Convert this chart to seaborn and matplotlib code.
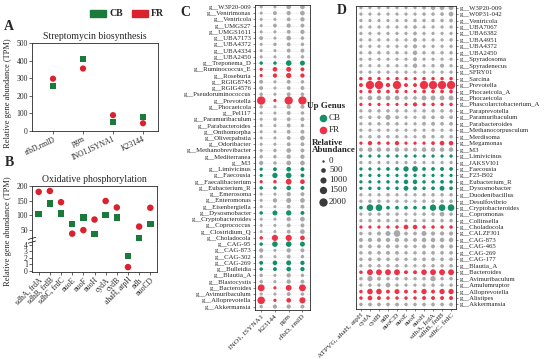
import matplotlib
matplotlib.use("Agg")
import matplotlib.pyplot as plt
import pandas as pd
import seaborn as sns

sns.set_theme(style="ticks")
plt.rcParams['font.family'] = ['Liberation Serif', 'DejaVu Serif']

# colours
CB_COL = '#1a7a3c'
FR_COL = '#d9222e'
BUB_PAL = {'CB': '#13906a', 'FR': '#ea3346', 'none': '#a8a8a8'}

# Panel A: Streptomycin biosynthesis
strep_genes = ['rfbD,rmlD', 'pgm', 'INO1,ISYNA1', 'K23144']
strep_cb = [256, 410, 50, 80]
strep_fr = [297, 355, 90, 44]

# Panel B: Oxidative phosphorylation
ox_genes = ['sdhA, frdA', 'sdhB, frdB', 'sdhC, frdC', 'nuoE', 'nuoF', 'nuoH',
            'cydA', 'cydB', 'ahaH, atpH', 'ndh', 'nuoCD']
ox_cb = [105, 140, 107, 70, 93, 37, 101, 93, 2.3, 24, 71]
ox_fr = [180, 183, 145, 38, 50, 86, 149, 127, 0.6, 62, 126]

# Panel C: genus contribution to streptomycin genes
c_genes = ['INO1, ISYNA1', 'K23144', 'pgm', 'rfbD, rmlD']
c_genus = ['W3P20-009', 'Ventrimonas', 'Ventricola', 'UMGS27', 'UMGS1611', 'UBA7173',
           'UBA4372', 'UBA4334', 'UBA2450', 'Treponema_D', 'Ruminococcus_E', 'Roseburia',
           'RGIG8745', 'RGIG4576', 'Pseudoruminococcus', 'Prevotella', 'Phocaeicola',
           'Pel117', 'Paramuribaculum', 'Parabacteroides', 'Onthomorpha', 'Oliverpabstia',
           'Odoribacter', 'Methanobrevibacter', 'Mediterranea', 'M3', 'Limivicinus',
           'Faecousia', 'Faecalibacterium', 'Eubacterium_R', 'Emerosoma', 'Enteromonas',
           'Eisenbergiella', 'Dysosmobacter', 'Cryptobacteroides', 'Coprococcus',
           'Clostridium_Q', 'Choladocola', 'CAG-95', 'CAG-873', 'CAG-302', 'CAG-269',
           'Bulleidia', 'Blautia_A', 'Blastocystis', 'Bacteroides', 'Avimuribaculum',
           'Alloprevotella', 'Akkermansia']
c_group = ['none'] * 9 + ['CB', 'FR', 'FR', 'none', 'none', 'none', 'FR'] + ['none'] * 10 + \
          ['CB', 'CB', 'FR', 'CB', 'none', 'none', 'none', 'CB', 'none', 'none', 'none',
           'FR', 'CB', 'none', 'none', 'CB', 'CB', 'none', 'none', 'FR', 'none', 'FR', 'none']
c_vals = [
    [120, 120, 500, 500], [120, 300, 400, 500], [120, 120, 300, 400], [120, 300, 400, 300],
    [120, 120, 300, 400], [300, 120, 500, 200], [120, 200, 300, 200], [120, 120, 300, 300],
    [120, 120, 200, 200], [200, 200, 800, 600], [150, 500, 600, 300], [150, 400, 700, 400],
    [300, 120, 300, 200], [300, 120, 300, 300], [200, 120, 300, 200], [4500, 150, 4500, 4500],
    [200, 120, 400, 300], [120, 120, 300, 200], [120, 200, 300, 300], [120, 120, 300, 200],
    [120, 120, 300, 300], [120, 120, 300, 500], [120, 120, 300, 300], [120, 200, 500, 300],
    [200, 200, 400, 400], [400, 200, 500, 500], [150, 300, 500, 300], [150, 700, 800, 300],
    [150, 200, 900, 500], [200, 200, 500, 300], [120, 120, 400, 300], [120, 400, 600, 500],
    [120, 120, 300, 300], [200, 600, 700, 300], [120, 120, 400, 500], [120, 120, 300, 300],
    [120, 120, 300, 500], [200, 1000, 1000, 500], [200, 800, 800, 600], [400, 120, 400, 300],
    [200, 120, 300, 200], [300, 500, 600, 400], [200, 300, 500, 400], [200, 120, 400, 200],
    [200, 120, 400, 300], [1300, 150, 900, 1300], [120, 120, 300, 200], [1600, 150, 500, 1000],
    [200, 400, 400, 300]]

# Panel D: genus contribution to oxidative phosphorylation genes
d_genes = ['ATPVG, ahaH, atpH', 'cydA', 'cydB', 'ndh', 'nuoCD', 'nuoE', 'nuoF', 'nuoH',
           'sdhA, frdA', 'sdhB, frdB', 'sdhC, frdC']
d_genus = ['W3P20-009', 'W0P31-042', 'Ventricola', 'UBA7067', 'UBA6382', 'UBA4951',
           'UBA4372', 'UBA2450', 'Spyradosoma', 'Spyradenecus', 'SFRY01', 'Sarcina',
           'Prevotella', 'Phocaeicola_A', 'Phocaeicola', 'Phascolarctobacterium_A',
           'Paraprevotella', 'Paramuribaculum', 'Parabacteroides', 'Methanocorpusculum',
           'Merdisoma', 'Megamonas', 'M3', 'Limivicinus', 'JAKSVI01', 'Faecousia', 'F23-B02',
           'Eubacterium_R', 'Dysosmobacter', 'Duodenibacillus', 'Desulfovibrio',
           'Cryptobacteroides', 'Copromonas', 'Collinsella', 'Choladocola', 'CALZFJ01',
           'CAG-873', 'CAG-465', 'CAG-269', 'CAG-177', 'Blautia_A', 'Bacteroides',
           'Avimuribaculum', 'Amulumruptor', 'Alloprevotella', 'Alistipes', 'Akkermansia']
d_group = ['none'] * 11 + ['FR', 'FR', 'FR', 'none', 'FR'] + ['none'] * 5 + \
          ['FR', 'none', 'CB', 'none', 'CB', 'CB', 'CB', 'CB', 'none', 'none', 'CB', 'none',
           'none', 'FR', 'none', 'none', 'none', 'none', 'none', 'none', 'FR', 'none', 'none',
           'FR', 'FR', 'none']
d_vals = [
    [150, 150, 150, 150, 150, 150, 150, 250, 500, 550, 550],
    [150, 150, 150, 150, 150, 150, 150, 200, 200, 250, 500],
    [150, 150, 150, 150, 150, 150, 200, 200, 200, 200, 250],
    [150, 150, 150, 150, 150, 150, 250, 150, 150, 150, 150],
    [150, 150, 150, 150, 150, 150, 250, 150, 150, 150, 150],
    [150, 150, 150, 150, 150, 150, 300, 150, 150, 150, 200],
    [150, 150, 150, 150, 150, 150, 350, 150, 150, 150, 150],
    [150, 200, 200, 200, 200, 150, 450, 200, 200, 200, 200],
    [150, 150, 150, 150, 150, 150, 300, 150, 150, 150, 150],
    [150, 150, 150, 150, 150, 150, 450, 150, 200, 350, 150],
    [150, 150, 150, 150, 150, 150, 150, 150, 150, 150, 150],
    [200, 250, 200, 150, 200, 150, 150, 200, 200, 200, 200],
    [300, 4200, 4200, 400, 4200, 300, 300, 4000, 4300, 4300, 4000],
    [150, 250, 250, 250, 250, 150, 150, 250, 250, 250, 250],
    [200, 500, 500, 500, 500, 250, 250, 550, 550, 550, 550],
    [150, 150, 150, 150, 150, 150, 350, 200, 200, 200, 200],
    [150, 200, 200, 200, 200, 150, 150, 200, 200, 200, 200],
    [150, 200, 200, 600, 250, 150, 150, 250, 250, 250, 250],
    [150, 200, 200, 250, 200, 150, 150, 250, 300, 250, 250],
    [150, 150, 150, 150, 150, 150, 150, 150, 150, 150, 150],
    [150, 200, 200, 200, 200, 150, 150, 250, 200, 200, 200],
    [150, 400, 200, 200, 400, 150, 150, 150, 250, 500, 450],
    [300, 450, 450, 350, 450, 300, 300, 450, 450, 450, 450],
    [150, 150, 150, 150, 150, 150, 150, 150, 150, 150, 150],
    [150, 150, 150, 150, 150, 150, 150, 150, 150, 150, 150],
    [150, 150, 150, 250, 250, 700, 800, 250, 250, 300, 250],
    [150, 150, 150, 150, 150, 200, 200, 150, 150, 150, 150],
    [150, 150, 150, 200, 200, 450, 450, 200, 200, 250, 200],
    [150, 200, 200, 200, 200, 550, 300, 200, 250, 550, 250],
    [150, 150, 150, 200, 150, 150, 150, 200, 200, 200, 200],
    [150, 200, 200, 200, 200, 150, 150, 200, 200, 200, 200],
    [250, 1200, 1200, 250, 250, 250, 250, 250, 1100, 1200, 1200],
    [150, 200, 200, 200, 200, 150, 150, 200, 200, 500, 200],
    [150, 200, 200, 200, 200, 150, 150, 200, 200, 200, 200],
    [150, 150, 150, 150, 200, 500, 450, 200, 200, 200, 200],
    [200, 200, 300, 600, 1200, 250, 250, 600, 350, 350, 350],
    [300, 350, 350, 400, 400, 300, 300, 450, 450, 450, 450],
    [200, 250, 250, 300, 250, 200, 200, 300, 300, 300, 300],
    [200, 250, 250, 300, 250, 200, 200, 250, 250, 250, 250],
    [200, 250, 250, 250, 250, 200, 200, 250, 250, 250, 250],
    [150, 200, 200, 200, 200, 150, 150, 200, 200, 200, 200],
    [200, 900, 900, 900, 900, 300, 300, 800, 900, 900, 900],
    [200, 700, 300, 200, 200, 200, 200, 200, 700, 200, 200],
    [150, 200, 200, 500, 200, 150, 150, 200, 200, 200, 200],
    [200, 800, 800, 300, 600, 300, 200, 700, 300, 700, 700],
    [200, 500, 300, 200, 200, 200, 200, 300, 300, 300, 300],
    [200, 250, 250, 250, 250, 200, 200, 250, 250, 250, 250]]

legend_sizes = [0, 500, 1000, 1500, 2000]
SIZE_RANGE = (3, 36)
SIZE_NORM = (0, 2000)

W, H = 550, 358
fig = plt.figure(figsize=(W / 100, H / 100), dpi=100)


def px_axes(left, top, right, bottom):
    return fig.add_axes([left / W, 1 - bottom / H, (right - left) / W, (bottom - top) / H])


def group_frame(genes, cb, fr):
    return pd.DataFrame({'gene': list(genes) * 2,
                         'group': ['CB'] * len(genes) + ['FR'] * len(genes),
                         'value': list(cb) + list(fr)})


def style_small(ax):
    ax.tick_params(labelsize=5.5, length=2, width=0.5, pad=1)
    for sp in ax.spines.values():
        sp.set_linewidth(0.6)
    ax.set_xlabel('')
    ax.set_ylabel('')


marker_map = {'CB': 's', 'FR': 'o'}
pal2 = {'CB': CB_COL, 'FR': FR_COL}

# ---- Panel A
axA = px_axes(32, 43, 158, 131)
sns.scatterplot(data=group_frame(strep_genes, strep_cb, strep_fr), x='gene', y='value',
                hue='group', style='group', markers=marker_map, palette=pal2,
                s=20, linewidth=0, legend=False, ax=axA)
axA.set_xlim(-0.7, 3.5)
axA.set_ylim(0, 500)
axA.set_yticks([0, 100, 200, 300, 400, 500])
style_small(axA)
plt.setp(axA.get_xticklabels(), rotation=25, ha='right', rotation_mode='anchor')
axA.set_title('Streptomycin biosynthesis', fontsize=7, pad=3)

# ---- Panel B (broken y axis)
dfB = group_frame(ox_genes, ox_cb, ox_fr)
axBt = px_axes(32, 186, 157, 241)
axBb = px_axes(32, 241, 157, 272)
for ax in (axBt, axBb):
    sns.scatterplot(data=dfB, x='gene', y='value', hue='group', style='group',
                    markers=marker_map, palette=pal2, s=22, linewidth=0,
                    legend=False, ax=ax)
    ax.set_xlim(-0.6, 10.6)
    style_small(ax)
axBt.set_ylim(13, 200)
axBt.set_yticks([50, 100, 150, 200])
axBt.spines['bottom'].set_visible(False)
axBt.tick_params(axis='x', bottom=False, labelbottom=False)
axBt.set_title('Oxidative phosphorylation', fontsize=7, pad=3)
axBb.set_ylim(-0.15, 4.6)
axBb.set_yticks([0, 1, 2, 3, 4])
axBb.spines['top'].set_visible(False)
plt.setp(axBb.get_xticklabels(), rotation=45, ha='right', rotation_mode='anchor')
for dy in (0.0, 0.12):
    axBb.plot([-0.03, 0.03], [0.93 + dy, 1.0 + dy], transform=axBb.transAxes,
              color='black', lw=0.5, clip_on=False)

fig.text(8 / W, 1 - 93 / H, 'Relative gene abundance (TPM)', rotation=90,
         fontsize=6, ha='center', va='center')
fig.text(8 / W, 1 - 231 / H, 'Relative gene abundance (TPM)', rotation=90,
         fontsize=6, ha='center', va='center')


# ---- Bubble panels
def bubble_frame(genus, genes, vals, groups):
    rows = []
    for i, g in enumerate(genus):
        for j, gene in enumerate(genes):
            rows.append({'row': i, 'col': j, 'value': vals[i][j], 'group': groups[i]})
    return pd.DataFrame(rows)


def bubble_panel(ax, genus, genes, vals, groups):
    df = bubble_frame(genus, genes, vals, groups)
    ax.set_axisbelow(True)
    ax.grid(True, color='#dcdcdc', lw=0.4, ls=(0, (2, 2)))
    sns.scatterplot(data=df, x='col', y='row', hue='group', size='value',
                    sizes=SIZE_RANGE, size_norm=SIZE_NORM, palette=BUB_PAL,
                    linewidth=0, legend=False, ax=ax)
    ax.set_xticks(range(len(genes)))
    ax.set_xticklabels(genes, rotation=45, ha='right', rotation_mode='anchor', fontsize=5.3)
    ax.set_yticks(range(len(genus)))
    ax.set_yticklabels(['g__' + g for g in genus], fontsize=4.9)
    ax.tick_params(length=1.5, width=0.4, pad=1)
    ax.set_xlabel('')
    ax.set_ylabel('')
    for sp in ax.spines.values():
        sp.set_linewidth(0.6)


axC = px_axes(255, 5, 310, 310)
bubble_panel(axC, c_genus, c_genes, c_vals, c_group)
axC.set_xlim(-0.45, 3.55)
axC.set_ylim(len(c_genus) - 0.45, -0.3)

axD = px_axes(356, 6, 456, 309)
bubble_panel(axD, d_genus, d_genes, d_vals, d_group)
axD.set_xlim(-0.55, 10.55)
axD.set_ylim(len(d_genus) - 0.3, -0.25)
axD.yaxis.tick_right()

# ---- overlay: panel letters and legends (pixel coordinates)
ov = fig.add_axes([0, 0, 1, 1])
ov.set_xlim(0, W)
ov.set_ylim(H, 0)
ov.axis('off')
ov.patch.set_alpha(0)
for lab, (x, y) in {'A': (9, 26), 'B': (9, 163), 'C': (185, 12), 'D': (342, 11)}.items():
    ov.text(x, y, lab, fontsize=10, fontweight='bold', ha='center', va='center')

ov.add_patch(plt.Rectangle((90, 10), 16, 7, color=CB_COL))
ov.text(109, 13.5, 'CB', fontsize=7, fontweight='bold', va='center')
ov.add_patch(plt.Rectangle((132, 10), 16, 7, color=FR_COL))
ov.text(151, 13.5, 'FR', fontsize=7, fontweight='bold', va='center')

ov.text(307, 106, 'Up Genus', fontsize=6.5, fontweight='bold', va='center')
for lab, y in (('CB', 118), ('FR', 129.5)):
    ov.scatter([322.5], [y], s=30, color=BUB_PAL[lab], linewidth=0)
    ov.text(329, y, lab, fontsize=6.5, va='center')
ov.text(312, 143, 'Relative', fontsize=6.5, fontweight='bold', va='center')
ov.text(312, 150.5, 'Abundance', fontsize=6.5, fontweight='bold', va='center')
for v, y in zip(legend_sizes, [161, 170, 180, 190, 202]):
    s = SIZE_RANGE[0] + (SIZE_RANGE[1] - SIZE_RANGE[0]) * v / SIZE_NORM[1]
    ov.scatter([322.5], [y], s=s, color='#3a3a3a', linewidth=0)
    ov.text(329, y, str(v), fontsize=6.5, va='center')

fig.savefig('out.png', dpi=100)
